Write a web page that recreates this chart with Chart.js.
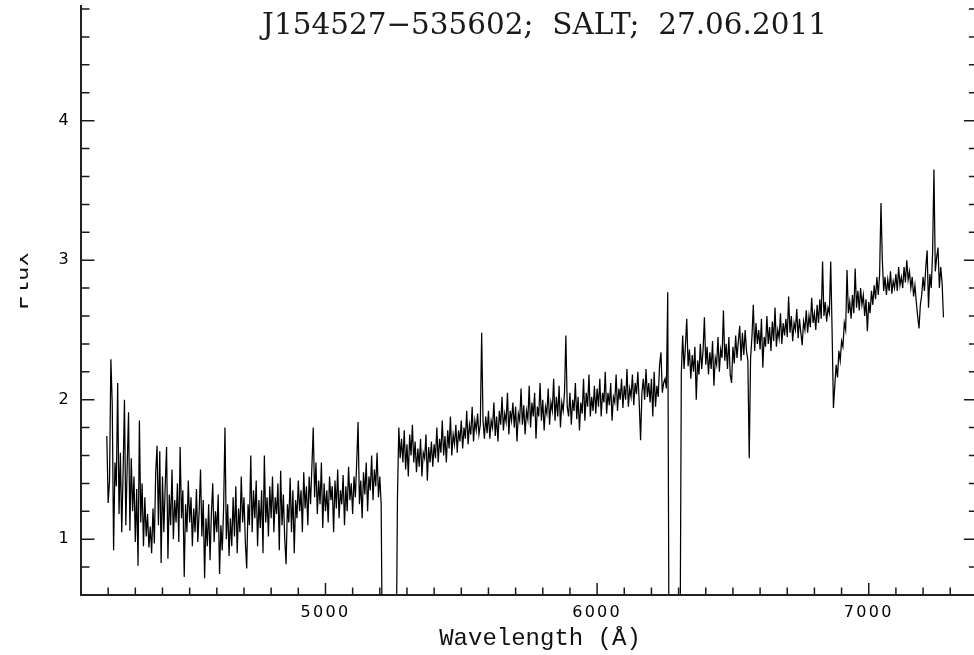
<!DOCTYPE html>
<html>
<head>
<meta charset="utf-8">
<title>J154527-535602 SALT spectrum</title>
<script src="https://cdn.jsdelivr.net/npm/chart.js@4.4.1/dist/chart.umd.min.js"></script>
<style>
html, body { margin: 0; padding: 0; background: #fff; overflow: hidden; }
#wrap { width: 974px; height: 655px; overflow: hidden; position: relative; background: #fff; }
canvas { display: block; }
</style>
</head>
<body>
<div id="wrap"><canvas id="c" width="980" height="655"></canvas></div>
<script>
// ---- texts ----
const titleText = 'J154527\u2212535602;  SALT;  27.06.2011';
const xAxisLabel = 'Wavelength (\u00C5)';
const yAxisLabel = 'Flux';

// ---- axis ticks ----
const xMajorTicks = [5000, 6000, 7000];
const xMinorTicks = [4200, 4300, 4400, 4500, 4600, 4700, 4800, 4900, 5100, 5200, 5300, 5400, 5500, 5600, 5700, 5800, 5900, 6100, 6200, 6300, 6400, 6500, 6600, 6700, 6800, 6900, 7100, 7200, 7300];
const yMajorTicks = [1, 2, 3, 4];
const yMinorTicks = [0.8, 1.2, 1.4, 1.6, 1.8, 2.2, 2.4, 2.6, 2.8, 3.2, 3.4, 3.6, 3.8, 4.2, 4.4, 4.6, 4.8];
const xRange = [4100, 7400];
const yRange = [0.6, 4.822];

// ---- spectrum: linear wavelength grid (Angstrom), flux ----
const lambdaStart = 4195;
const lambdaStep = 5;
// 4195 - 4690
const fluxA = [
  1.74,1.26,1.42,2.29,1.97,0.92,1.55,1.38,2.12,1.18,1.62,1.05,1.48,2.00,1.10,1.52,1.91,1.06,1.58,1.20,
  1.45,0.98,1.36,0.81,1.85,1.12,1.40,0.95,1.30,1.02,1.18,0.94,1.09,0.90,1.22,0.97,1.48,1.67,1.10,1.63,
  0.83,1.45,1.05,1.38,1.66,0.86,1.32,1.10,1.50,1.00,1.28,1.12,1.40,0.98,1.66,1.15,1.35,0.73,1.25,1.05,
  1.42,1.12,1.30,0.95,1.22,1.05,1.36,0.98,1.20,1.50,1.02,1.28,0.72,1.15,0.95,1.25,0.85,1.18,1.40,0.98,
  1.20,1.05,1.32,0.75,1.10,0.92,1.22,1.80,1.00,1.25,0.88,1.15,0.95,1.30,1.02,1.38,0.90,1.22,1.05,1.45
];
// 4695 - 5190
const fluxB = [
  1.12,1.30,0.98,0.79,1.25,1.10,1.60,1.05,1.35,1.15,1.42,0.95,1.28,1.08,1.35,0.90,1.60,1.12,1.30,1.02,
  1.38,1.15,1.45,1.05,1.30,1.18,1.40,0.92,1.49,1.10,1.32,1.00,0.82,1.25,1.12,1.44,1.05,1.35,0.90,1.28,
  1.15,1.42,1.20,1.35,1.05,1.48,1.22,1.38,1.10,1.45,1.25,1.52,1.80,1.30,1.55,1.18,1.42,1.25,1.55,1.08,
  1.40,1.20,1.35,1.12,1.45,1.28,1.38,1.05,1.42,1.22,1.50,1.15,1.35,1.25,1.46,1.10,1.38,1.20,1.52,1.28,
  1.40,1.18,1.45,1.30,1.55,1.84,1.25,1.42,1.15,1.48,1.32,1.55,1.20,1.45,1.35,1.60,1.28,1.50,1.38,1.62
];
// 5195 - 5690 (0 = masked chip gap)
const fluxC = [
  1.30,1.45,1.25,0,0,0,0,0,0,0,0,0,0,0,1.30,1.80,1.58,1.72,1.55,1.78,
  1.50,1.68,1.45,1.75,1.60,1.82,1.55,1.70,1.48,1.65,1.52,1.72,1.45,1.62,1.58,1.75,1.42,1.66,1.55,1.70,
  1.52,1.68,1.58,1.80,1.55,1.72,1.62,1.85,1.60,1.74,1.55,1.78,1.65,1.88,1.60,1.75,1.68,1.82,1.62,1.78,
  1.70,1.85,1.65,1.80,1.72,1.92,1.68,1.82,1.75,1.95,1.70,1.85,1.78,1.90,1.75,1.82,2.48,1.85,1.72,1.88,
  1.76,1.92,1.72,1.85,1.80,1.98,1.74,1.88,1.70,1.92,1.82,2.02,1.78,1.90,1.84,2.05,1.75,1.92,1.85,1.98
];
// 5695 - 6190
const fluxD = [
  1.80,1.95,1.70,1.90,1.85,2.08,1.82,1.96,1.75,1.92,1.86,2.10,1.80,1.98,1.88,2.05,1.72,1.95,1.88,2.12,
  1.85,2.00,1.78,1.95,1.90,2.08,1.82,1.98,1.92,2.15,1.85,2.02,1.88,2.10,1.80,1.98,1.92,2.05,2.46,1.95,
  1.88,2.05,1.82,2.00,1.92,2.12,1.86,2.02,1.78,1.98,1.90,2.15,1.85,2.05,1.95,2.18,1.88,2.02,1.92,2.10,
  1.90,2.08,1.95,2.15,1.88,2.05,1.98,2.20,1.90,2.05,1.96,2.12,1.85,2.02,1.98,2.18,1.92,2.08,2.00,2.15,
  1.94,2.10,2.00,2.22,1.95,2.08,2.02,2.18,1.96,2.12,2.04,2.20,1.98,1.71,2.05,2.15,2.00,2.22,2.02,2.12
];
// 6195 - 6690 (0 = masked chip gap)
const fluxE = [
  1.98,2.15,1.88,2.20,1.95,2.10,2.02,2.25,2.34,2.05,2.12,2.15,2.08,2.77,0,0,0,0,0,0,
  0,0,0,2.19,2.46,2.22,2.38,2.58,2.24,2.36,2.15,2.32,2.20,2.38,2.00,2.28,2.18,2.40,2.22,2.35,
  2.59,2.25,2.38,2.18,2.34,2.22,2.42,2.10,2.30,2.25,2.45,2.20,2.36,2.30,2.64,2.28,2.40,2.22,2.45,2.18,
  2.12,2.38,2.26,2.46,2.30,2.42,2.53,2.28,2.48,2.32,2.50,2.35,2.28,1.58,2.30,2.45,2.68,2.35,2.55,2.40,
  2.50,2.36,2.58,2.23,2.45,2.38,2.60,2.40,2.52,2.35,2.56,2.42,2.66,2.38,2.50,2.44,2.62,2.40,2.55,2.46
];
// 6695 - 7190
const fluxF = [
  2.58,2.45,2.74,2.48,2.60,2.42,2.55,2.50,2.65,2.44,2.58,2.48,2.39,2.56,2.50,2.64,2.48,2.60,2.52,2.73,
  2.55,2.62,2.50,2.68,2.55,2.72,2.58,2.99,2.60,2.70,2.56,2.66,2.62,2.99,2.50,1.94,2.10,2.25,2.16,2.35,
  2.28,2.42,2.38,2.55,2.50,2.93,2.62,2.70,2.58,2.75,2.62,2.94,2.66,2.78,2.64,2.80,2.68,2.75,2.60,2.72,
  2.49,2.70,2.62,2.78,2.68,2.82,2.72,2.88,2.75,2.90,3.41,3.00,2.78,2.88,2.75,2.86,2.78,2.92,2.76,2.85,
  2.80,2.90,2.78,2.95,2.82,2.88,2.80,2.95,2.84,3.00,2.86,2.92,2.80,2.88,2.74,2.82,2.70,2.60,2.51,2.68
];
// 7195 - 7275
const fluxG = [
  2.75,2.88,2.78,2.95,3.07,2.66,2.90,2.80,3.05,3.65,2.92,3.02,3.09,2.80,2.95,2.84,2.59
];

const flux = [].concat(fluxA, fluxB, fluxC, fluxD, fluxE, fluxF, fluxG);
const points = flux.map((f, i) => ({ x: lambdaStart + i * lambdaStep, y: f }));

// ---- inward tick marks on left, right and bottom axes ----
const inwardTicks = {
  id: 'inwardTicks',
  afterDatasetsDraw(chart) {
    const { ctx, chartArea: a, scales: { x, y } } = chart;
    ctx.save();
    ctx.strokeStyle = '#1a1a1a';
    ctx.lineWidth = 1.5;
    ctx.beginPath();
    const tx = (v, len) => {
      const p = x.getPixelForValue(v);
      ctx.moveTo(p, a.bottom); ctx.lineTo(p, a.bottom - len);
    };
    const ty = (v, len) => {
      const p = y.getPixelForValue(v);
      ctx.moveTo(a.left, p); ctx.lineTo(a.left + len, p);
      ctx.moveTo(a.right, p); ctx.lineTo(a.right - len, p);
    };
    xMajorTicks.forEach(v => tx(v, 12));
    xMinorTicks.forEach(v => tx(v, 7.5));
    yMajorTicks.forEach(v => ty(v, 13.5));
    yMinorTicks.forEach(v => ty(v, 8.5));
    ctx.stroke();
    ctx.restore();
  }
};

// ---- wide tick-label spacing like the original plot ----
const spacing = {
  id: 'spacing',
  beforeDraw(chart) { chart.ctx.letterSpacing = '2.3px'; }
};

// ---- title and axis labels ----
const texts = {
  id: 'texts',
  afterDraw(chart) {
    const ctx = chart.ctx;
    ctx.save();
    ctx.letterSpacing = '0px';
    ctx.fillStyle = '#1a1a1a';
    ctx.textBaseline = 'alphabetic';
    ctx.textAlign = 'center';
    let size = 29;
    ctx.font = size + 'px "DejaVu Serif"';
    const w = ctx.measureText(titleText).width;
    size = size * 565 / w;
    ctx.font = size.toFixed(2) + 'px "DejaVu Serif"';
    ctx.fillText(titleText, 544.5, 33.5);

    ctx.fillStyle = '#111';
    ctx.font = '24px "Liberation Mono"';
    ctx.fillText(xAxisLabel, 540, 645);

    ctx.save();
    ctx.beginPath();
    ctx.rect(20, 0, 30, 655);
    ctx.clip();
    ctx.translate(28.3, 281);
    ctx.rotate(-Math.PI / 2);
    ctx.fillText(yAxisLabel, 0, 0);
    ctx.restore();
    ctx.restore();
    ctx.letterSpacing = '0px';
  }
};

new Chart(document.getElementById('c'), {
  type: 'line',
  data: {
    datasets: [{
      data: points,
      borderColor: '#000',
      borderWidth: 1.25,
      pointRadius: 0,
      tension: 0,
      fill: false
    }]
  },
  options: {
    responsive: false,
    animation: false,
    devicePixelRatio: 1,
    layout: { padding: { top: 6, right: 2.6, left: 0, bottom: 0 } },
    plugins: { legend: { display: false }, tooltip: { enabled: false }, title: { display: false } },
    scales: {
      x: {
        type: 'linear',
        min: xRange[0],
        max: xRange[1],
        afterBuildTicks: s => { s.ticks = xMajorTicks.map(v => ({ value: v })); },
        afterFit: s => { s.height = 60; s.paddingLeft = 0; s.paddingRight = 0; },
        grid: { display: false, drawTicks: false },
        border: { display: true, color: '#222', width: 2 },
        ticks: {
          color: '#000',
          font: { family: 'DejaVu Sans', size: 16 },
          padding: 8,
          maxRotation: 0,
          autoSkip: false,
          callback: v => String(v)
        }
      },
      y: {
        type: 'linear',
        min: yRange[0],
        max: yRange[1],
        afterBuildTicks: s => { s.ticks = yMajorTicks.map(v => ({ value: v })); },
        afterFit: s => { s.width = 81; s.paddingTop = 0; s.paddingBottom = 0; },
        grid: { display: false, drawTicks: false },
        border: { display: true, color: '#222', width: 2 },
        ticks: {
          color: '#000',
          font: { family: 'DejaVu Sans', size: 16 },
          padding: 10,
          callback: v => String(v)
        }
      }
    }
  },
  plugins: [spacing, inwardTicks, texts]
});
</script>
</body>
</html>
